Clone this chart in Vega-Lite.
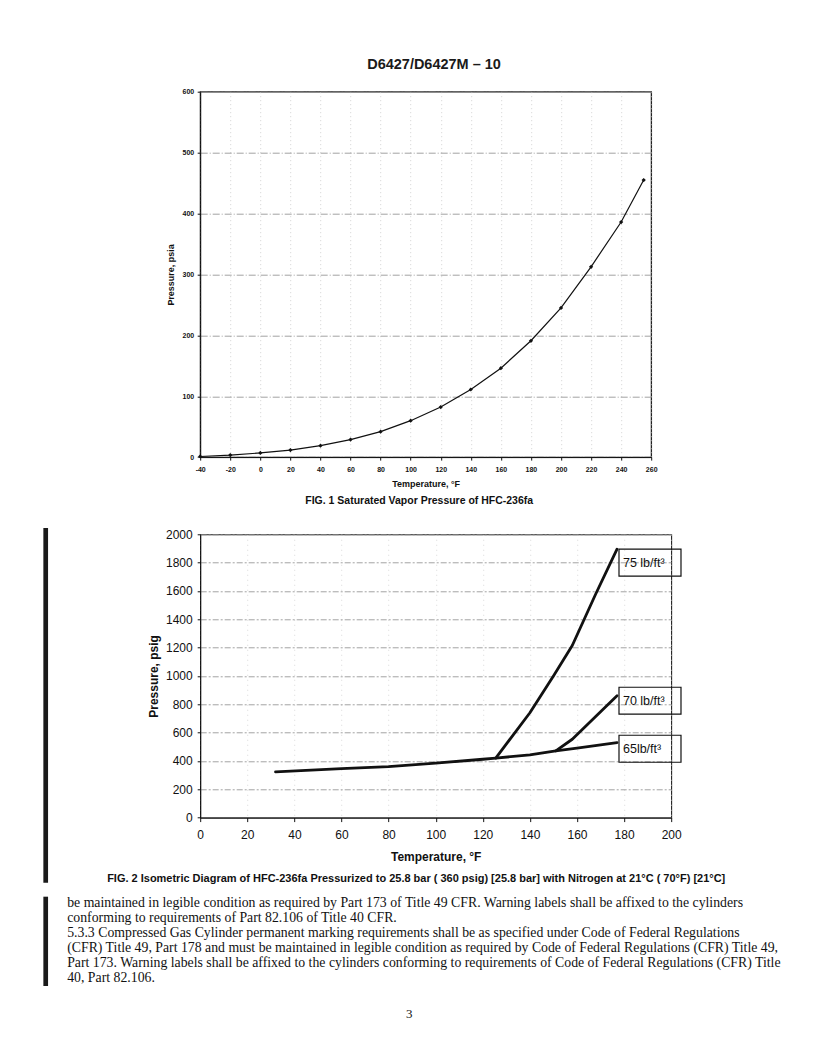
{
  "$schema": "https://vega.github.io/schema/vega-lite/v6.json",
  "background": "white",
  "padding": {"left": 42.2, "top": 56.7, "right": 20, "bottom": 20},
  "title": {"text": "D6427/D6427M – 10", "anchor": "start", "frame": "group", "dx": 167, "offset": 3.3, "baseline": "alphabetic", "font": "Liberation Sans", "fontSize": 14.5, "fontWeight": "bold", "color": "#1a1a1a"},
  "bounds": "flush",
  "spacing": 76.6,
  "config": {
    "font": "Liberation Sans",
    "axis": {"domainColor": "#111", "tickColor": "#111", "labelColor": "#111", "titleColor": "#111", "labelFont": "Liberation Sans", "titleFont": "Liberation Sans"},
    "title": {"color": "#111", "font": "Liberation Sans"}
  },
  "vconcat": [
    {
      "width": 451,
      "height": 365.4,
      "view": {"stroke": "#222", "strokeWidth": 1.3},
      "title": {"text": "FIG. 1 Saturated Vapor Pressure of HFC-236fa", "orient": "bottom", "anchor": "middle", "frame": "group", "dx": -6.5, "offset": 7, "baseline": "top", "fontSize": 10.5, "fontWeight": "bold"},
      "data": {"values": [
        {"temperature": -40, "pressure": 1.0},
        {"temperature": -20, "pressure": 3.3},
        {"temperature": 0, "pressure": 6.8},
        {"temperature": 20, "pressure": 11.5},
        {"temperature": 40, "pressure": 18.8},
        {"temperature": 60, "pressure": 28.7},
        {"temperature": 80, "pressure": 41.8},
        {"temperature": 100, "pressure": 59.8},
        {"temperature": 120, "pressure": 82.2},
        {"temperature": 140, "pressure": 111},
        {"temperature": 160, "pressure": 146},
        {"temperature": 180, "pressure": 191},
        {"temperature": 200, "pressure": 245},
        {"temperature": 220, "pressure": 312.5},
        {"temperature": 240, "pressure": 386},
        {"temperature": 255, "pressure": 455}
      ]},
      "encoding": {
        "x": {"field": "temperature", "type": "quantitative", "scale": {"domain": [-40, 260], "nice": false, "zero": false},
          "axis": {"title": "Temperature, °F", "values": [-40, -20, 0, 20, 40, 60, 80, 100, 120, 140, 160, 180, 200, 220, 240, 260], "labelExpr": "'' + datum.value", "labelFontSize": 7, "labelFontWeight": "bold", "labelPadding": 5.5, "tickSize": 3, "titleFontSize": 9, "titleFontWeight": "bold", "titlePadding": 7, "grid": true, "gridColor": "#c8c8c8", "gridDash": [1, 3], "gridWidth": 0.8, "labelFlush": false, "labelOverlap": false}},
        "y": {"field": "pressure", "type": "quantitative", "scale": {"domain": [0, 600], "nice": false},
          "axis": {"title": "Pressure, psia", "values": [0, 100, 200, 300, 400, 500, 600], "labelExpr": "'' + datum.value", "labelFontSize": 7, "labelFontWeight": "bold", "labelPadding": 3.5, "tickSize": 3, "titleFontSize": 9, "titleFontWeight": "bold", "titlePadding": 6.5, "grid": true, "gridColor": "#8a8a8a", "gridDash": [7, 2, 1, 2], "gridWidth": 0.8, "labelOverlap": false}}
      },
      "layer": [
        {"mark": {"type": "line", "color": "#111", "strokeWidth": 1.2}},
        {"mark": {"type": "point", "shape": "diamond", "filled": true, "color": "#111", "size": 18, "opacity": 1}}
      ]
    },
    {
      "width": 471,
      "height": 283.3,
      "view": {"stroke": "#222", "strokeWidth": 1.1},
      "layer": [
        {
          "data": {"values": [
            {"series": "75", "temperature": 125.5, "pressure": 420},
            {"series": "75", "temperature": 140, "pressure": 740},
            {"series": "75", "temperature": 150, "pressure": 1000},
            {"series": "75", "temperature": 158, "pressure": 1215},
            {"series": "75", "temperature": 168, "pressure": 1580},
            {"series": "75", "temperature": 177, "pressure": 1895},
            {"series": "70", "temperature": 151, "pressure": 471},
            {"series": "70", "temperature": 158, "pressure": 553},
            {"series": "70", "temperature": 177, "pressure": 860},
            {"series": "65", "temperature": 32, "pressure": 323},
            {"series": "65", "temperature": 60, "pressure": 346},
            {"series": "65", "temperature": 80, "pressure": 360},
            {"series": "65", "temperature": 100, "pressure": 384},
            {"series": "65", "temperature": 120, "pressure": 412},
            {"series": "65", "temperature": 125.5, "pressure": 420},
            {"series": "65", "temperature": 140, "pressure": 443},
            {"series": "65", "temperature": 151, "pressure": 471},
            {"series": "65", "temperature": 160, "pressure": 490},
            {"series": "65", "temperature": 177, "pressure": 529}
          ]},
          "mark": {"type": "line", "color": "#111", "strokeWidth": 2.8, "strokeJoin": "round", "strokeCap": "round"},
          "encoding": {
            "x": {"field": "temperature", "type": "quantitative", "scale": {"domain": [0, 200], "nice": false},
              "axis": {"title": "Temperature, °F", "values": [0, 20, 40, 60, 80, 100, 120, 140, 160, 180, 200], "labelExpr": "'' + datum.value", "labelFontSize": 12, "labelPadding": 8, "tickSize": 4, "titleFontSize": 12, "titleFontWeight": "bold", "titlePadding": 11, "grid": true, "gridColor": "#d0d0d0", "gridDash": [1, 4], "gridWidth": 0.8, "labelFlush": false, "labelOverlap": false}},
            "y": {"field": "pressure", "type": "quantitative", "scale": {"domain": [0, 2000], "nice": false},
              "axis": {"title": "Pressure, psig", "values": [0, 200, 400, 600, 800, 1000, 1200, 1400, 1600, 1800, 2000], "labelExpr": "'' + datum.value", "labelFontSize": 12, "labelPadding": 5, "tickSize": 3, "titleFontSize": 12, "titleFontWeight": "bold", "titlePadding": 5, "grid": true, "gridColor": "#8a8a8a", "gridDash": [6, 2, 2, 2], "gridWidth": 0.8, "labelOverlap": false, "labelFlush": false, "tickCount": 11}},
            "detail": {"field": "series"}
          }
        },
        {
          "data": {"values": [
            {"label": "75 lb/ft³", "temperature": 191, "pressure": 1800},
            {"label": "70 lb/ft³", "temperature": 191, "pressure": 825},
            {"label": "65lb/ft³", "temperature": 191, "pressure": 486}
          ]},
          "layer": [
            {"mark": {"type": "point", "shape": "M-1,-0.435H1V0.435H-1Z", "size": 3844, "filled": false, "color": "#111", "strokeWidth": 1.2, "opacity": 1, "clip": false},
             "encoding": {"x": {"field": "temperature", "type": "quantitative"}, "y": {"field": "pressure", "type": "quantitative"}}},
            {"mark": {"type": "text", "align": "left", "baseline": "middle", "dx": -27, "fontSize": 12.5, "color": "#111", "clip": false},
             "encoding": {"x": {"field": "temperature", "type": "quantitative"}, "y": {"field": "pressure", "type": "quantitative"}, "text": {"field": "label"}}}
          ]
        },
        {"data": {"values": [{}]},
         "mark": {"type": "rule", "strokeWidth": 4.7, "color": "#1a1a1a", "clip": false},
         "encoding": {"x": {"datum": -65.6, "type": "quantitative"},
           "y": {"datum": 2044.6, "type": "quantitative", "axis": {"title": "Pressure, psig", "values": [0, 200, 400, 600, 800, 1000, 1200, 1400, 1600, 1800, 2000], "labelExpr": "'' + datum.value", "labelFontSize": 12, "labelPadding": 5, "tickSize": 3, "titleFontSize": 12, "titleFontWeight": "bold", "titlePadding": 5, "grid": true, "gridColor": "#8a8a8a", "gridDash": [6, 2, 2, 2], "gridWidth": 0.8, "labelOverlap": false, "labelFlush": false, "tickCount": 11}},
           "y2": {"datum": -459.6}}},
        {"data": {"values": [{}]},
         "mark": {"type": "rule", "strokeWidth": 4.7, "color": "#1a1a1a", "clip": false},
         "encoding": {"x": {"datum": -65.6, "type": "quantitative"},
           "y": {"datum": -558.4, "type": "quantitative", "axis": {"title": "Pressure, psig", "values": [0, 200, 400, 600, 800, 1000, 1200, 1400, 1600, 1800, 2000], "labelExpr": "'' + datum.value", "labelFontSize": 12, "labelPadding": 5, "tickSize": 3, "titleFontSize": 12, "titleFontWeight": "bold", "titlePadding": 5, "grid": true, "gridColor": "#8a8a8a", "gridDash": [6, 2, 2, 2], "gridWidth": 0.8, "labelOverlap": false, "labelFlush": false, "tickCount": 11}},
           "y2": {"datum": -1188.9}}}
      ]
    },
    {
      "width": 471,
      "height": 91.2,
      "view": {"stroke": null},
      "title": {"text": "FIG. 2 Isometric Diagram of HFC-236fa Pressurized to 25.8 bar ( 360 psig) [25.8 bar] with Nitrogen at 21°C ( 70°F) [21°C]", "orient": "top", "anchor": "middle", "frame": "group", "dx": -19.5, "offset": 2, "baseline": "alphabetic", "fontSize": 11, "fontWeight": "bold"},
      "layer": [
        {
          "data": {"values": [
            {"line": 1, "text": "be maintained in legible condition as required by Part 173 of Title 49 CFR. Warning labels shall be affixed to the cylinders"},
            {"line": 2, "text": "conforming to requirements of Part 82.106 of Title 40 CFR."},
            {"line": 3, "text": "\u00a0\u00a0\u00a0\u00a05.3.3 Compressed Gas Cylinder permanent marking requirements shall be as specified under Code of Federal Regulations"},
            {"line": 4, "text": "(CFR) Title 49, Part 178 and must be maintained in legible condition as required by Code of Federal Regulations (CFR) Title 49,"},
            {"line": 5, "text": "Part 173. Warning labels shall be affixed to the cylinders conforming to requirements of Code of Federal Regulations (CFR) Title"},
            {"line": 6, "text": "40, Part 82.106."}
          ]},
          "mark": {"type": "text", "align": "left", "baseline": "middle", "dx": -368.5, "font": "Liberation Serif", "fontSize": 13.8, "color": "#111"},
          "encoding": {
            "y": {"field": "line", "type": "ordinal", "axis": null, "scale": {"type": "point", "padding": 0.54}},
            "text": {"field": "text"}
          }
        },
        {
          "data": {"values": [{"page": "3"}]},
          "mark": {"type": "text", "align": "center", "baseline": "middle", "dx": -26.5, "dy": 73.2, "font": "Liberation Serif", "fontSize": 13, "color": "#111"},
          "encoding": {"text": {"field": "page"}}
        }
      ]
    }
  ]
}
